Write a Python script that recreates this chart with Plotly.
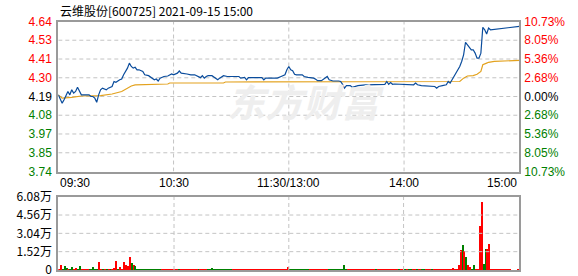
import plotly.graph_objects as go

# ---------------- data ----------------
title_text = "云维股份[600725] 2021-09-15 15:00"
prev_close = 4.19
limit_pct = 10.73

price_labels = ["4.64", "4.53", "4.41", "4.30", "4.19", "4.08", "3.97", "3.85", "3.74"]
pct_ticks = [10.73, 8.05, 5.36, 2.68, 0.00, -2.68, -5.36, -8.05, -10.73]
pct_labels = ["10.73%", "8.05%", "5.36%", "2.68%", "0.00%", "2.68%", "5.36%", "8.05%", "10.73%"]

time_pos = [0, 60, 120, 180, 240]
time_labels = ["09:30", "10:30", "11:30/13:00", "14:00", "15:00"]

vol_ticks = [0, 1.52, 3.04, 4.56, 6.08]
vol_labels = ["0", "1.52万", "3.04万", "4.56万", "6.08万"]

# price line (minute index from 09:30, price)
price_min = [0, 2, 3, 5, 6, 7, 8, 9, 10, 11, 12, 14, 16, 17, 18, 19, 20, 21, 22, 23, 25, 26, 28, 29, 30,
             32, 33, 34, 35, 36, 37, 38, 39, 40, 41, 42, 44, 45, 47, 49, 50, 51, 52, 53, 55, 57, 59, 60,
             62, 63, 64, 67, 69, 71, 73, 74, 75, 76, 77, 78, 80, 82, 83, 84, 86, 88, 94, 95, 97, 98, 99,
             106, 107, 108, 114, 116, 118, 119, 120, 121, 122, 123, 124, 127, 128, 130, 133, 134, 135, 137,
             138, 139, 140, 141, 143, 146, 147, 148, 149, 150, 152, 153, 155, 156, 160, 168, 170, 171, 172,
             173, 174, 175, 182, 185, 186, 187, 189, 194, 196, 197, 198, 200, 202, 203, 204, 205, 206, 207,
             208, 209, 210, 211, 212, 213, 214, 215, 216, 217, 218, 219, 220, 221, 222, 223, 224, 225, 240]
price_val = [4.20, 4.15, 4.17, 4.22, 4.20, 4.23, 4.21, 4.22, 4.245, 4.22, 4.20, 4.20, 4.20, 4.19, 4.19, 4.18,
             4.155, 4.20, 4.23, 4.24, 4.23, 4.24, 4.25, 4.28, 4.275,
             4.29, 4.295, 4.32, 4.34, 4.36, 4.39, 4.37, 4.36, 4.365, 4.35, 4.35, 4.34, 4.32, 4.315, 4.30,
             4.29, 4.295, 4.283, 4.30, 4.31, 4.313, 4.325, 4.32,
             4.33, 4.343, 4.33, 4.325, 4.32, 4.32, 4.31, 4.303, 4.315, 4.30, 4.31, 4.315, 4.315, 4.30, 4.29,
             4.30, 4.315, 4.31, 4.31, 4.30, 4.305, 4.29, 4.303,
             4.303, 4.29, 4.30, 4.30, 4.31, 4.32, 4.35, 4.37, 4.35, 4.345, 4.323, 4.32, 4.32, 4.31, 4.305,
             4.30, 4.293, 4.285, 4.285,
             4.295, 4.30, 4.31, 4.29, 4.283, 4.283, 4.28, 4.263, 4.24, 4.255, 4.255, 4.245, 4.25, 4.255,
             4.26, 4.26, 4.263, 4.28, 4.263,
             4.273, 4.263, 4.265, 4.26, 4.26, 4.27, 4.26, 4.255, 4.253, 4.25, 4.24, 4.25, 4.255, 4.26, 4.28,
             4.27, 4.29, 4.31, 4.33, 4.35,
             4.37, 4.40, 4.44, 4.515, 4.50, 4.48, 4.47, 4.47, 4.45, 4.42, 4.42, 4.45, 4.605, 4.59, 4.565,
             4.60, 4.59, 4.61, 4.61]

# average price line
avg_min = [0, 2, 7, 12, 22, 28, 33, 36, 38, 40, 46, 57, 58, 86, 87, 207, 209, 211, 213, 216, 218, 220,
           221, 223, 224, 227, 240]
avg_val = [4.20, 4.18, 4.185, 4.193, 4.195, 4.205, 4.22, 4.24, 4.253, 4.26, 4.262, 4.265, 4.271, 4.271,
           4.277, 4.277, 4.28, 4.30, 4.313, 4.315, 4.323, 4.34, 4.38, 4.39, 4.395, 4.40, 4.407]

# volume per minute (万手), 241 values
volume = [
    0.05, 0.47, 0.05, 0.39, 0.22, 0.05, 0.05, 0.30, 0.06, 0.15, 0.05, 0.39, 0.05, 0.05, 0.05, 0.05, 0.05, 0.05, 0.30, 0.12,
    0.05, 0.72, 0.08, 0.05, 0.05, 0.05, 0.05, 0.05, 0.05, 0.22, 0.80, 0.05, 0.30, 0.05, 0.72, 0.41, 0.33, 1.08, 0.64, 0.41,
    0.33, 0.05, 0.05, 0.05, 0.05, 0.05, 0.05, 0.05, 0.05, 0.05, 0.05, 0.05, 0.05, 0.05, 0.05, 0.05, 0.05, 0.05, 0.05, 0.05,
    0.05, 0.05, 0.05, 0.05, 0.05, 0.05, 0.05, 0.05, 0.05, 0.05, 0.05, 0.05, 0.05, 0.05, 0.05, 0.05, 0.05, 0.05, 0.05, 0.05,
    0.22, 0.05, 0.05, 0.05, 0.05, 0.05, 0.05, 0.05, 0.05, 0.05, 0.05, 0.05, 0.05, 0.05, 0.05, 0.05, 0.05, 0.05, 0.05, 0.05,
    0.05, 0.05, 0.05, 0.05, 0.05, 0.05, 0.05, 0.05, 0.05, 0.05, 0.05, 0.05, 0.05, 0.05, 0.05, 0.05, 0.05, 0.05, 0.05, 0.05,
    0.30, 0.05, 0.05, 0.05, 0.05, 0.05, 0.05, 0.05, 0.05, 0.05, 0.05, 0.05, 0.05, 0.05, 0.05, 0.05, 0.05, 0.05, 0.05, 0.05,
    0.05, 0.05, 0.05, 0.05, 0.05, 0.05, 0.05, 0.05, 0.05, 0.47, 0.05, 0.05, 0.05, 0.05, 0.05, 0.05, 0.05, 0.05, 0.05, 0.05,
    0.05, 0.05, 0.05, 0.05, 0.05, 0.05, 0.05, 0.05, 0.05, 0.05, 0.05, 0.05, 0.05, 0.05, 0.05, 0.05, 0.05, 0.05, 0.05, 0.05,
    0.05, 0.05, 0.05, 0.05, 0.05, 0.05, 0.05, 0.05, 0.05, 0.05, 0.05, 0.05, 0.05, 0.05, 0.05, 0.05, 0.05, 0.05, 0.05, 0.05,
    0.05, 0.05, 0.05, 0.05, 0.05, 0.05, 0.22, 0.05, 0.05, 0.47, 1.72, 2.13, 1.63, 1.13, 0.47, 0.31, 0.05, 0.47, 0.05, 0.12,
    3.70, 5.64, 0.52, 1.80, 1.80, 2.21, 0.05, 0.05, 0.05, 0.05, 0.05, 0.05, 0.05, 0.05, 0.05, 0.05, 0.05, 0.00, 0.00, 0.00,
    0.12]

# bar direction per minute: r = up, g = down
vol_dir = (
    "rrgggrggrrggrrrrgggg"
    "grrgrgrgrrrgrrrrrrgr"
    "ggggggggggggggrrrrrr"
    "rrrgrrrrrrrrrgrrrrgg"
    "gggggggggggrrrrrrrrr"
    "rrrrrrrrrrrrrrrrrrrr"
    "rggggggggggrrrrrrrrr"
    "rggggggggggrrrrrrrrr"
    "rrrrrrgrrrrrrrrrrrgr"
    "rgrggrrgrrggrrrgrrrr"
    "rrrrrrrrrrrgrgrrggrr"
    "rrggrrrrrrrrrrrrrrrr"
    "r"
)

# ---------------- figure ----------------
W, H = 578, 276
RED, GREEN, BLACK = "#ff0000", "#008000", "#000000"
GRID = "#c4c4c4"
FRAME = "#9a9a9a"
FONT = "Liberation Sans, Arial, sans-serif"

main_x = [58.3 / W, 519.3 / W]
main_y = [1 - 171.5 / H, 1 - 21.5 / H]
vol_y = [1 - 270.0 / H, 1 - 196.7 / H]

price_tickvals = [prev_close * (1 + p / 100) for p in pct_ticks]
price_lo = prev_close * (1 - limit_pct / 100)
price_hi = prev_close * (1 + limit_pct / 100)


def colored(label, pct):
    c = RED if pct > 0 else (GREEN if pct < 0 else BLACK)
    return f"<span style='color:{c}'>{label}</span>"


fig = go.Figure()

# watermark
fig.add_annotation(text="<i><b>东方财富</b></i>", xref="paper", yref="paper", x=305 / W, y=1 - 100 / H,
                   showarrow=False, font=dict(family="Noto Sans CJK SC", size=38, color="#eeeeee"),
                   xanchor="center", yanchor="middle")

# dashed grid lines drawn as line traces (first, so they sit under the data)
grid_line = dict(color=GRID, width=1, dash="4px,3px")
for v in price_tickvals[1:-1]:
    fig.add_trace(go.Scatter(x=[time_pos[0], time_pos[-1]], y=[v, v], mode="lines", line=grid_line,
                             xaxis="x", yaxis="y", hoverinfo="skip"))
for t in time_pos[1:-1]:
    fig.add_trace(go.Scatter(x=[t, t], y=[price_lo, price_hi], mode="lines", line=grid_line,
                             xaxis="x", yaxis="y", hoverinfo="skip"))
for v in vol_ticks[1:-1]:
    fig.add_trace(go.Scatter(x=[time_pos[0] - 0.5, time_pos[-1] + 0.5], y=[v, v], mode="lines",
                             line=grid_line, xaxis="x2", yaxis="y3", hoverinfo="skip"))
for t in time_pos[1:-1]:
    fig.add_trace(go.Scatter(x=[t, t], y=[vol_ticks[0], vol_ticks[-1]], mode="lines", line=grid_line,
                             xaxis="x2", yaxis="y3", hoverinfo="skip"))

fig.add_trace(go.Scatter(x=avg_min, y=avg_val, mode="lines", line=dict(color="#e3a21e", width=1.2),
                         xaxis="x", yaxis="y", hoverinfo="skip"))
fig.add_trace(go.Scatter(x=price_min, y=price_val, mode="lines", line=dict(color="#0a4c9c", width=1.2),
                         xaxis="x", yaxis="y", hoverinfo="skip"))
# invisible trace on percentage axis
fig.add_trace(go.Scatter(x=price_min, y=[(v / prev_close - 1) * 100 for v in price_val], mode="lines",
                         line=dict(width=0), opacity=0, xaxis="x", yaxis="y2", hoverinfo="skip"))

vol_colors = [RED if d == "r" else GREEN for d in vol_dir]
fig.add_trace(go.Bar(x=list(range(len(volume))), y=volume, marker=dict(color=vol_colors, line=dict(width=0)),
                     width=0.55, xaxis="x2", yaxis="y3", hoverinfo="skip"))

axis_common = dict(showline=True, linecolor=FRAME, linewidth=2, mirror=True, zeroline=False,
                   ticks="", fixedrange=True, automargin=False, ticklabeloverflow="allow",
                   showgrid=False)

fig.update_layout(
    width=W, height=H, margin=dict(l=0, r=0, t=0, b=0, pad=0, autoexpand=False),
    paper_bgcolor="white", plot_bgcolor="white", showlegend=False,
    font=dict(family=FONT, size=12, color="#000"),
    bargap=0,
    xaxis=dict(domain=main_x, range=[0, 240], tickvals=time_pos, showticklabels=False, **axis_common),
    yaxis=dict(domain=main_y, range=[price_lo, price_hi],
               tickvals=price_tickvals,
               ticktext=[colored(l, p) for l, p in zip(price_labels, pct_ticks)],
               tickfont=dict(size=12, family=FONT), ticklabelstandoff=2, **axis_common),
    yaxis2=dict(overlaying="y", side="right", range=[-limit_pct, limit_pct], tickvals=pct_ticks,
                ticktext=[colored(l, p) for l, p in zip(pct_labels, pct_ticks)],
                showgrid=False, zeroline=False, showline=False, ticks="", automargin=False,
                ticklabeloverflow="allow",
                tickfont=dict(size=12, family=FONT), ticklabelstandoff=4, fixedrange=True),
    xaxis2=dict(domain=main_x, anchor="y3", range=[-0.5, 240.5], tickvals=time_pos, showticklabels=False,
                **axis_common),
    yaxis3=dict(domain=vol_y, anchor="x2", range=[0, 6.08], tickvals=vol_ticks, ticktext=vol_labels,
                tickfont=dict(size=12, family="Noto Sans CJK SC, Liberation Sans"), ticklabelstandoff=2,
                **axis_common),
)

# title
fig.add_annotation(text=title_text, xref="paper", yref="paper", x=58 / W, y=1 - 10 / H,
                   xanchor="left", yanchor="middle", showarrow=False,
                   font=dict(family="Noto Sans CJK SC, Liberation Sans", size=12, color="#000"))

# time labels under the price chart
anchors = ["left", "center", "center", "center", "right"]
for pos, lab, anc in zip(time_pos, time_labels, anchors):
    fig.add_annotation(text=lab, xref="x", yref="paper", x=pos, y=1 - 183 / H, xanchor=anc,
                       yanchor="middle", showarrow=False, font=dict(family=FONT, size=12, color="#000"))

fig.write_html("out.html")
